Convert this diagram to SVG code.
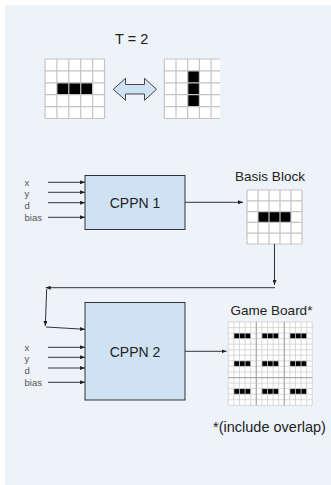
<svg xmlns="http://www.w3.org/2000/svg" width="331" height="485" viewBox="0 0 331 485">
<style>
text{font-family:"Liberation Sans",Arial,sans-serif;fill:#222}
.lbl{font-size:9.5px;fill:#555}
.box{fill:#cfe2f3;stroke:#333;stroke-width:1}
.grid{fill:none;stroke:#c4c4c4;stroke-width:1.2}
.fine{fill:none;stroke:#cfcfcf;stroke-width:0.8}
.thick{fill:none;stroke:#aaaaaa;stroke-width:1.3}
.conn{fill:none;stroke:#333;stroke-width:1}
</style>
<defs>
<marker id="ah" markerUnits="userSpaceOnUse" markerWidth="5" markerHeight="4" refX="5" refY="2" orient="auto">
<path d="M0,0 L5,2 L0,4 z" fill="#222"/>
</marker>
<clipPath id="rclip"><rect x="163" y="58" width="57" height="62"/></clipPath>
</defs>
<rect x="0" y="0" width="331" height="485" fill="#ffffff"/>
<rect x="5" y="5" width="326" height="480" fill="#eef2f9"/>

<g id="title"><text x="131.7" y="44" font-size="14.5" text-anchor="middle">T = 2</text></g>

<g id="grid-horizontal">
<rect x="45" y="59" width="59.5" height="59.5" fill="#fff"/>
<rect x="56.9" y="82.8" width="35.7" height="11.9" fill="#000"/>
<path class="grid" d="M45,59V118.5M56.9,59V118.5M68.8,59V118.5M80.7,59V118.5M92.6,59V118.5M104.5,59V118.5M45,59H104.5M45,70.9H104.5M45,82.8H104.5M45,94.7H104.5M45,106.6H104.5M45,118.5H104.5"/>
</g>

<g id="double-arrow">
<polygon points="113.3,89.3 125.5,78.3 125.5,84.5 144.5,84.5 144.5,78.3 156.5,89.3 144.5,100.3 144.5,94 125.5,94 125.5,100.3" fill="#cfe2f3" stroke="#444" stroke-width="1"/>
</g>

<g id="grid-vertical" clip-path="url(#rclip)">
<rect x="164.3" y="59" width="58.5" height="59.5" fill="#fff"/>
<rect x="187.7" y="70.9" width="11.7" height="35.7" fill="#000"/>
<path class="grid" d="M164.3,59V118.5M176,59V118.5M187.7,59V118.5M199.4,59V118.5M211.1,59V118.5M164.3,59H222.8M164.3,70.9H222.8M164.3,82.8H222.8M164.3,94.7H222.8M164.3,106.6H222.8M164.3,118.5H222.8"/>
</g>

<g id="cppn1">
<rect class="box" x="85" y="175.5" width="100" height="54"/>
<text x="135" y="208.3" font-size="14" text-anchor="middle">CPPN 1</text>
</g>
<g id="inputs1">
<text class="lbl" x="24.5" y="186.3">x</text>
<text class="lbl" x="24.5" y="197">y</text>
<text class="lbl" x="24.5" y="208.8">d</text>
<text class="lbl" x="24.5" y="221.3">bias</text>
</g>

<g id="basis-block">
<text x="270" y="180.7" font-size="13.5" text-anchor="middle">Basis Block</text>
<rect x="247" y="190" width="55" height="54" fill="#fff"/>
<rect x="258" y="211.6" width="33" height="10.8" fill="#000"/>
<path class="grid" d="M247,190V244M258,190V244M269,190V244M280,190V244M291,190V244M302,190V244M247,190H302M247,200.8H302M247,211.6H302M247,222.4H302M247,233.2H302M247,244H302"/>
</g>

<g id="cppn2">
<rect class="box" x="85" y="302.5" width="100" height="97.5"/>
<text x="135" y="357.3" font-size="14" text-anchor="middle">CPPN 2</text>
</g>
<g id="inputs2">
<text class="lbl" x="24.5" y="351.3">x</text>
<text class="lbl" x="24.5" y="362">y</text>
<text class="lbl" x="24.5" y="373.8">d</text>
<text class="lbl" x="24.5" y="386.3">bias</text>
</g>

<g id="game-board">
<text x="271.5" y="315" font-size="13.5" text-anchor="middle">Game Board*</text>
<rect x="228.3" y="322" width="84" height="83.3" fill="#fff"/>
<g fill="#000">
<rect x="233.9" y="333.1" width="16.8" height="5.55"/>
<rect x="261.9" y="333.1" width="16.8" height="5.55"/>
<rect x="289.9" y="333.1" width="16.8" height="5.55"/>
<rect x="233.9" y="360.87" width="16.8" height="5.55"/>
<rect x="261.9" y="360.87" width="16.8" height="5.55"/>
<rect x="289.9" y="360.87" width="16.8" height="5.55"/>
<rect x="233.9" y="388.6" width="16.8" height="5.55"/>
<rect x="261.9" y="388.6" width="16.8" height="5.55"/>
<rect x="289.9" y="388.6" width="16.8" height="5.55"/>
</g>
<path class="fine" d="M228.3,322V405.3M233.9,322V405.3M239.5,322V405.3M245.1,322V405.3M250.7,322V405.3M261.9,322V405.3M267.5,322V405.3M273.1,322V405.3M278.7,322V405.3M289.9,322V405.3M295.5,322V405.3M301.1,322V405.3M306.7,322V405.3M312.3,322V405.3M228.3,322H312.3M228.3,327.55H312.3M228.3,333.1H312.3M228.3,338.66H312.3M228.3,344.2H312.3M228.3,349.77H312.3M228.3,355.3H312.3M228.3,360.87H312.3M228.3,366.4H312.3M228.3,371.98H312.3M228.3,383.1H312.3M228.3,388.6H312.3M228.3,394.2H312.3M228.3,399.7H312.3M228.3,405.3H312.3"/>
<path class="thick" d="M256.3,322V405.3M284.3,322V405.3M228.3,377.53H312.3"/>
</g>
<g id="note"><text x="269.5" y="431.7" font-size="14.5" text-anchor="middle">*(include overlap)</text></g>

<g id="connectors" class="conn">
<path d="M48,182.3H85" marker-end="url(#ah)"/>
<path d="M48,192.3H85" marker-end="url(#ah)"/>
<path d="M48,202.7H85" marker-end="url(#ah)"/>
<path d="M48,217.3H85" marker-end="url(#ah)"/>
<path d="M185,202.3H243" marker-end="url(#ah)"/>
<path d="M274.5,244V285" marker-end="url(#ah)"/>
<path d="M275,287.7H45.7" marker-end="url(#ah)"/>
<path d="M46.7,289L45.3,326" marker-end="url(#ah)"/>
<path d="M46,327L85,329.3" marker-end="url(#ah)"/>
<path d="M48,347.3H85" marker-end="url(#ah)"/>
<path d="M48,357.3H85" marker-end="url(#ah)"/>
<path d="M48,368H85" marker-end="url(#ah)"/>
<path d="M48,382.3H85" marker-end="url(#ah)"/>
<path d="M185,351.3H226.5" marker-end="url(#ah)"/>
</g>
</svg>
